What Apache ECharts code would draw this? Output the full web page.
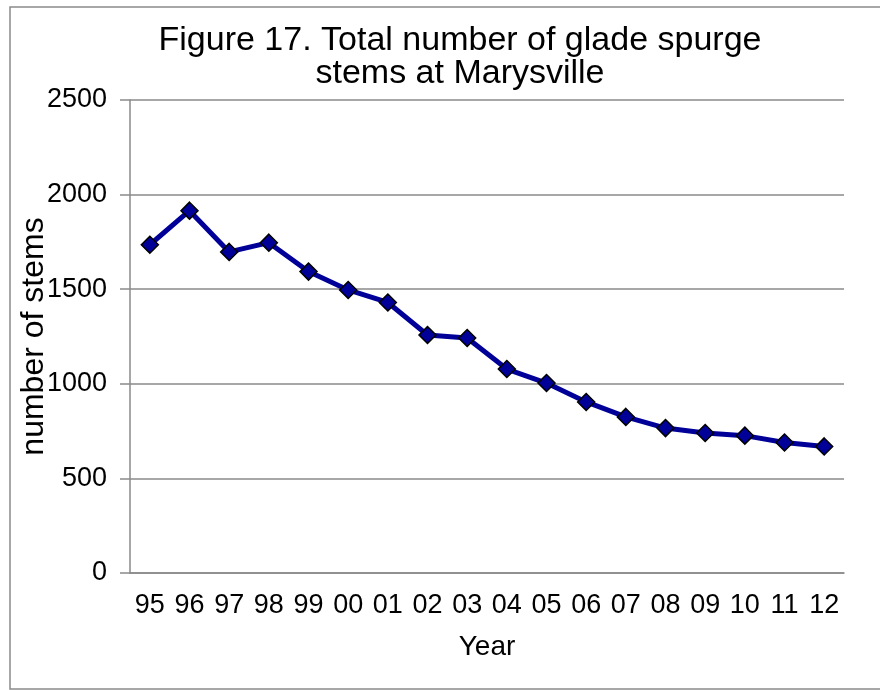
<!DOCTYPE html>
<html>
<head>
<meta charset="utf-8">
<script src="https://cdn.jsdelivr.net/npm/echarts@6/dist/echarts.min.js"></script>
<style>
    html, body { margin: 0; padding: 0; background: #fff; }
    #chart { width: 880px; height: 690px; }
</style>
</head>
<body>
<div id="chart"></div>
<script>
const years = ['95', '96', '97', '98', '99', '00', '01', '02', '03', '04', '05', '06', '07', '08', '09', '10', '11', '12'];
const stems = [1735, 1915, 1697, 1746, 1593, 1496, 1430, 1258, 1242, 1078, 1004, 904, 825, 766, 740, 726, 690, 669];
const yTicks = [0, 500, 1000, 1500, 2000, 2500];

const font = 'Liberation Sans, Arial, sans-serif';
const grey = '#8a8a8a';

var myChart = echarts.init(document.getElementById('chart'));
myChart.setOption({
    animation: false,
    graphic: [{
        type: 'rect',
        shape: { x: 10, y: 7, width: 900, height: 682 },
        style: { fill: 'none', stroke: grey, lineWidth: 1.5 }
    }],
    title: {
        text: 'Figure 17. Total number of glade spurge\nstems at Marysville',
        left: 455,
        top: 19,
        textAlign: 'center',
        textStyle: { fontFamily: font, fontSize: 34, fontWeight: 'normal', color: '#000', lineHeight: 33 }
    },
    grid: { left: 130, right: 36, top: 100, bottom: 117, outerBoundsMode: 'none', containLabel: false },
    xAxis: {
        type: 'category',
        data: years,
        name: 'Year',
        nameLocation: 'middle',
        nameGap: 60,
        nameMoveOverlap: false,
        nameTextStyle: { fontFamily: font, fontSize: 28, color: '#000' },
        axisLine: { lineStyle: { color: grey, width: 1.5 } },
        axisTick: { length: 7, lineStyle: { color: grey, width: 1.5 } },
        axisLabel: { fontFamily: font, fontSize: 27, color: '#000', margin: 19 }
    },
    yAxis: {
        type: 'value',
        min: 0,
        max: 2500,
        interval: 500,
        name: 'number of stems',
        nameLocation: 'middle',
        nameGap: 80,
        nameMoveOverlap: false,
        nameTextStyle: { fontFamily: font, fontSize: 32, color: '#000' },
        axisLine: { show: true, lineStyle: { color: grey, width: 1.5 } },
        axisTick: { show: true, length: 10, lineStyle: { color: grey, width: 1.5 } },
        axisLabel: {
            fontFamily: font, fontSize: 27, color: '#000', margin: 23,
            formatter: v => yTicks.includes(v) ? String(v) : ''
        },
        splitLine: { lineStyle: { color: grey, width: 1.5 } }
    },
    series: [{
        type: 'line',
        data: stems,
        symbol: 'diamond',
        symbolSize: 17,
        lineStyle: { color: '#000099', width: 5 },
        itemStyle: { color: '#000099', borderColor: '#000', borderWidth: 1.5 }
    }]
});
</script>
</body>
</html>
